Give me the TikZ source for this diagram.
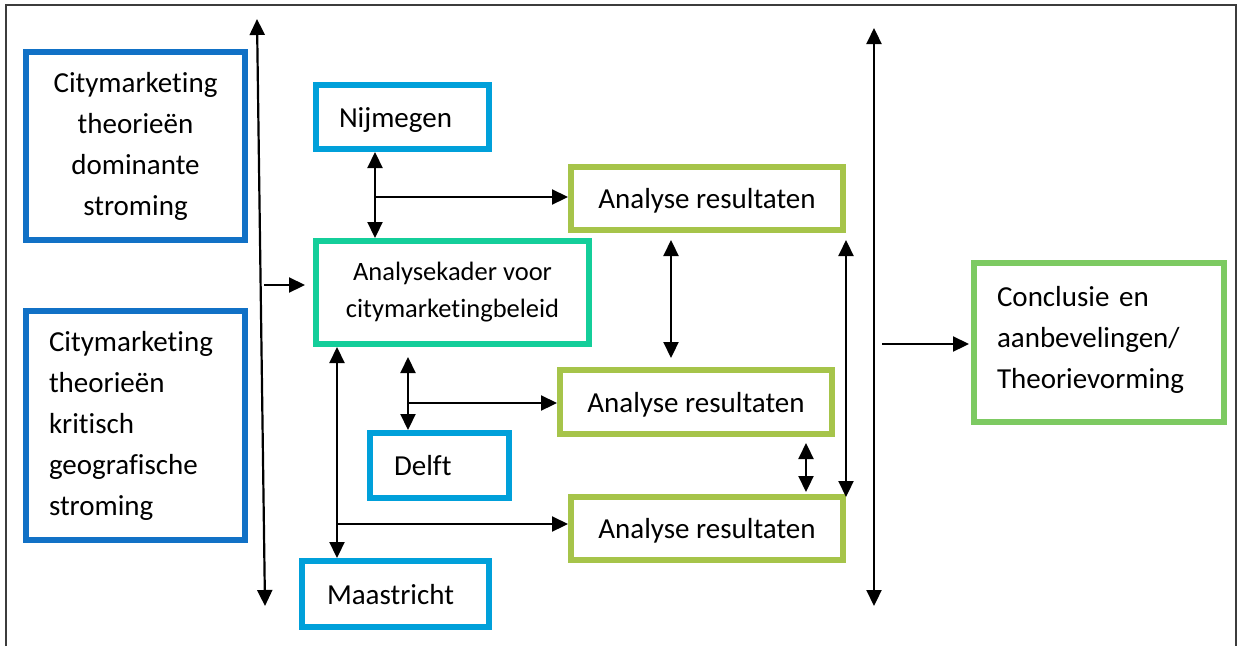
\documentclass[tikz,border=0pt]{standalone}
\usepackage{fontspec}
\setmainfont{Carlito}[Ligatures={NoCommon}]
\usetikzlibrary{arrows.meta}
\definecolor{dblue}{RGB}{17,113,198}
\definecolor{cyanb}{RGB}{0,160,218}
\definecolor{tealb}{RGB}{20,206,154}
\definecolor{oliveb}{RGB}{166,196,74}
\definecolor{greenb}{RGB}{125,202,98}
\definecolor{framec}{RGB}{60,60,60}
\tikzset{
  box/.style={draw=#1, line width=6pt, fill=white, inner sep=0pt, font=\fontsize{29}{41}\selectfont},
  oneline/.style={text height=20pt, text depth=0pt},
  conn/.style={line width=2.2pt, black},
  dbl/.style={conn, {Triangle[length=16pt,width=15pt]}-{Triangle[length=16pt,width=15pt]}},
  sgl/.style={conn, -{Triangle[length=16pt,width=15pt]}},
}
\begin{document}
\begin{tikzpicture}[x=1pt,y=-1pt]
\useasboundingbox (0,0) rectangle (1238,646);
\fill[white] (0,0) rectangle (1238,646);
\draw[line width=2pt, framec] (6,646) -- (6,5) -- (1236,5) -- (1236,646);

% boxes
\node[box=dblue, minimum width=219, minimum height=188, align=center] (b1) at (135.5,146) {Citymarketing\\theorieën\\dominante\\stroming};
\node[box=dblue, minimum width=219, minimum height=229, text width=173, align=left] (b2) at (135.5,425.5) {Citymarketing\\theorieën\\kritisch\\geografische\\stroming};
\node[box=cyanb, oneline, minimum width=173, minimum height=64, text width=127, align=left] (nij) at (402.5,117) {Nijmegen};
\node[box=tealb, minimum width=273, minimum height=103, align=center, font=\fontsize{26.5}{37}\selectfont] (ak) at (452.5,292.5) {Analysekader voor\\citymarketingbeleid};
\node[box=oliveb, oneline, minimum width=272, minimum height=63] (a1) at (707,198.5) {Analyse resultaten};
\node[box=oliveb, oneline, minimum width=272, minimum height=64] (a2) at (696,402) {Analyse resultaten};
\node[box=oliveb, oneline, minimum width=272, minimum height=63] (a3) at (707,528.5) {Analyse resultaten};
\node[box=cyanb, oneline, minimum width=139, minimum height=65, text width=91, align=left] (delft) at (439.5,465.5) {Delft};
\node[box=cyanb, oneline, minimum width=187, minimum height=66, text width=137, align=left] (maas) at (395.5,594) {Maastricht};
\node[box=greenb, minimum width=250, minimum height=159, text width=204, align=left] (conc) at (1099,342.5) {Conclusie en\\aanbevelingen/\\Theorievorming\\[-30pt]\mbox{}};

% helper coordinates
\coordinate (lt) at (257,19);
\coordinate (lb) at (265,606);
\coordinate (la) at (264,285);
\coordinate (x375) at (375,0);
\coordinate (nb) at (375,197);
\coordinate (x337) at (337,0);
\coordinate (mb) at (337,524);
\coordinate (dtop) at (408,357);
\coordinate (db) at (408,403);
\coordinate (x671) at (671,0);
\coordinate (x806) at (806,0);
\coordinate (rt) at (874,28);
\coordinate (rb) at (874,606);
\coordinate (ca) at (882,344);

% connectors
\draw[dbl] (lt) -- (lb);
\draw[sgl, shorten >=8pt] (la) -- (la -| ak.west);
\draw[dbl] (x375 |- nij.south) -- (x375 |- ak.north);
\draw[sgl] (nb) -- (nb -| a1.west);
\draw[dbl] (x337 |- ak.south) -- (x337 |- maas.north);
\draw[sgl] (mb) -- (mb -| a3.west);
\draw[dbl] (dtop) -- (dtop |- delft.north);
\draw[sgl] (db) -- (db -| a2.west);
\draw[dbl, shorten <=7pt, shorten >=9pt] (x671 |- a1.south) -- (x671 |- a2.north);
\draw[dbl, shorten <=6pt, shorten >=2pt] (x806 |- a2.south) -- (x806 |- a3.north);
\draw[dbl, shorten <=7pt, shorten >=-3pt] (a1.south east) -- (a3.north east);
\draw[dbl] (rt) -- (rb);
\draw[sgl, shorten >=2pt] (ca) -- (ca -| conc.west);
\end{tikzpicture}
\end{document}
